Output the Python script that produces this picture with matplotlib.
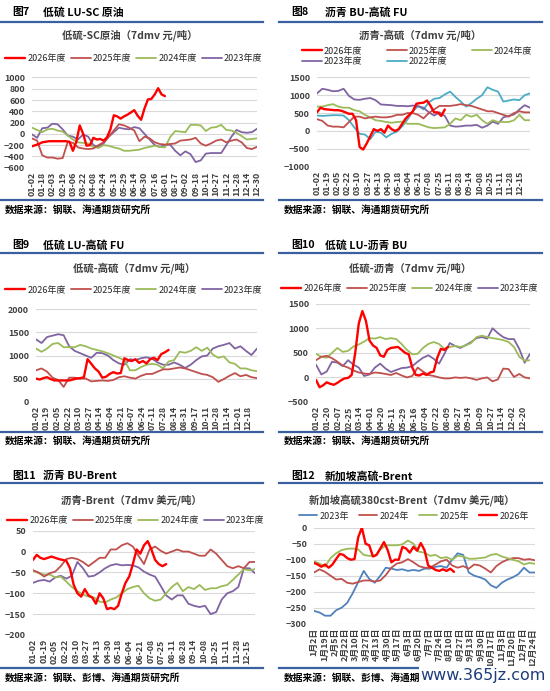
import numpy as np
import matplotlib
matplotlib.use('Agg')
import matplotlib.pyplot as plt
from matplotlib.lines import Line2D

plt.rcParams['font.family'] = ['Noto Sans CJK SC', 'DejaVu Sans']

# ---------------- data ----------------
# Fig 7 : LU - SC
p7_ticks = ['01-02','01-18','02-03','02-19','03-06','03-22','04-08','04-24','05-13','05-29','06-14',
            '06-30','07-16','08-01','08-17','09-02','09-18','10-11','10-27','11-12','11-28','12-14','12-30']
p7_2026 = [-220,-200,-180,-150,-140,-130,-130,-130,-130,-130,-130,-140,-300,-140,150,0,-210,-200,-70,-100,
           -90,-120,-60,80,330,310,270,310,340,380,420,320,250,450,610,620,700,810,700,670]
p7_2025 = [-80,-120,-380,-420,-420,-440,-430,-140,-160,-240,-260,-270,-260,-200,-150,-50,60,170,150,110,60,
           -130,-50,-80,-150,-180,-190,-180,-170,-120,-110,-100,-70,-170,-210,-170,-120,-100,-150,-120,-100,
           -150,-250,-270,-230]
p7_2024 = [110,70,30,80,90,60,40,-30,-100,-150,-160,-170,-230,-250,-200,-210,-240,-260,-300,-300,-290,-280,
           -250,-230,-210,-230,-240,-60,50,40,30,160,160,150,50,110,120,160,70,60,20,-40,-100,-90,-80]
p7_2023 = [-10,-70,100,110,180,170,80,-30,-50,-100,-10,-50,-200,-230,-170,-50,30,110,90,80,120,100,0,-100,
           -200,-230,-200,-190,-300,-380,-310,-360,-500,-470,-350,-340,-340,-340,-200,-50,70,30,20,30,90]

# Fig 8 : BU - FU
p8_ticks = ['01-02','01-19','02-05','02-22','03-10','03-27','04-13','04-30','05-18','06-04','06-21',
            '07-08','07-25','08-11','08-28','09-14','10-08','10-25','11-11','11-28','12-15']
p8_2026 = [520,650,610,600,590,580,580,560,520,480,480,300,-450,-520,-350,-150,50,0,50,-50,150,50,0,50,
           200,350,450,550,760,780,790,850,700,520,520,420,600]
p8_2025 = [330,280,150,120,120,100,250,400,400,350,380,400,380,380,400,450,450,500,500,450,350,500,600,700,
           700,700,720,750,720,700,650,600,550,550,500,450,400,500,550,520,520]
p8_2024 = [680,680,720,750,680,650,650,580,550,450,380,300,280,250,230,250,260,200,200,200,150,100,80,90,
           100,200,350,300,450,400,450,300,200,300,250,250,250,300,450,300,300]
p8_2023 = [1050,1180,1150,1110,1120,1180,980,880,870,900,920,860,740,730,720,700,700,690,710,690,650,520,
           430,520,420,150,120,130,150,150,170,90,150,260,200,380,420,460,600,720,650]
p8_2022 = [430,420,430,440,440,430,300,100,-80,-100,-230,-20,-50,-180,-80,-20,130,320,550,700,600,800,900,
           920,1020,1100,950,820,680,780,900,1000,1220,1150,1100,820,850,880,860,1000,1050]

# Fig 9 : LU - FU
p9_ticks = ['01-02','01-19','02-05','02-22','03-10','03-27','04-14','05-04','05-21','06-07','06-24',
            '07-11','07-28','08-14','08-31','09-17','10-11','10-28','11-14','12-01','12-18']
p9_2026 = [500,480,510,530,490,460,460,460,460,460,480,500,510,530,920,820,720,650,520,540,600,640,610,620,
           940,900,880,920,840,880,830,920,950,900,1030,1070,1120]
p9_2025 = [680,720,650,520,470,320,520,520,500,500,440,450,460,450,470,530,550,520,500,560,600,600,650,700,
           700,720,740,720,680,640,600,580,530,430,490,560,620,550,580,530,510]
p9_2024 = [1150,1080,1150,1250,1270,1180,1180,1180,1230,1200,1150,1120,1090,1050,1000,950,900,680,680,750,
           800,820,800,720,870,900,1080,1060,1100,1180,1100,1170,1020,950,980,850,820,720,720,680,660]
p9_2023 = [1350,1270,1400,1430,1460,1440,1200,1100,1050,1000,950,1060,1050,1000,900,830,800,920,900,940,960,
           930,850,800,800,850,800,730,800,900,980,1000,1150,1200,1230,1270,1150,1200,1100,1010,1150]

# Fig 10 : LU - BU
p10_ticks = ['01-02','01-20','02-07','02-25','03-14','04-01','04-20','05-11','05-29','06-16','07-04',
             '07-22','08-09','08-27','09-14','10-09','10-27','11-14','12-02','12-20']
p10_2026 = [-50,-200,-160,-100,-130,-150,-110,-60,-20,-10,50,500,1100,1350,1150,750,650,600,450,420,560,600,
            610,620,560,500,470,200,50,40,80,50,100,120,400,580,560,620]
p10_2025 = [350,420,440,390,320,240,200,140,100,80,70,100,90,70,50,90,40,0,30,200,120,50,30,0,-20,-20,0,-10,
            0,-20,-50,-20,0,-80,-40,180,170,10,70,0,-20]
p10_2024 = [480,420,400,500,600,520,540,630,670,730,800,790,820,780,800,780,680,560,470,480,600,680,720,680,
            580,620,640,620,650,700,820,850,820,800,780,760,720,620,420,340,350]
p10_2023 = [260,60,120,320,300,230,350,260,200,30,60,200,280,180,110,150,190,200,230,320,400,450,380,280,480,
            700,640,600,660,720,800,820,790,1000,900,820,780,780,580,300,480]

# Fig 11 : BU - Brent
p11_ticks = p8_ticks
p11_2026 = [-20,-8,-15,-18,-15,-12,-15,-18,-20,-22,-40,-80,-100,-108,-90,-105,-110,-125,-100,-112,-138,-135,
            -138,-130,-100,-75,-60,-30,5,-5,15,25,5,-20,-30,-35,-30]
p11_2025 = [-45,-50,-60,-52,-48,-35,-18,-15,-18,-25,-35,-25,-15,-15,5,5,15,20,12,-10,-30,5,12,2,-5,0,5,0,0,
            -5,-10,-10,5,-5,-20,-35,-40,-35,-40,-25,-25]
p11_2024 = [-45,-52,-55,-55,-62,-60,-72,-85,-95,-103,-108,-110,-120,-122,-115,-110,-100,-90,-85,-82,-100,
            -112,-118,-115,-100,-85,-75,-95,-85,-90,-80,-92,-88,-88,-83,-80,-68,-55,-42,-45,-42]
p11_2023 = [-75,-70,-68,-72,-62,-58,-65,-58,-25,-40,-60,-58,-50,-40,-33,-30,-33,-32,-33,-38,-48,-55,-60,-82,
            -105,-115,-105,-105,-125,-130,-133,-130,-150,-145,-115,-100,-95,-85,-40,-40,-52]

# Fig 12 : Singapore HSFO380 - Brent
p12_ticks = ['1月2日','1月19日','2月5日','2月22日','3月10日','3月27日','4月13日','4月30日','5月17日','6月3日',
             '6月20日','7月7日','7月24日','8月10日','8月27日','9月13日','9月30日','10月17日','11月3日',
             '11月20日','12月7日','12月24日']
p12_2023 = [-260,-265,-275,-275,-258,-250,-235,-205,-170,-135,-160,-172,-150,-125,-128,-132,-130,-135,-132,
            -135,-128,-128,-122,-120,-125,-100,-80,-85,-140,-150,-155,-162,-180,-188,-172,-162,-155,-145,
            -125,-140,-140]
p12_2024 = [-140,-130,-138,-150,-162,-160,-172,-175,-170,-165,-165,-168,-165,-148,-125,-112,-108,-98,-108,
            -120,-125,-125,-115,-105,-100,-118,-125,-120,-128,-115,-118,-128,-140,-120,-108,-100,-95,-95,
            -100,-98,-102]
p12_2025 = [-105,-112,-122,-95,-80,-70,-66,-65,-68,-85,-88,-88,-68,-55,-55,-55,-52,-40,-50,-75,-78,-88,-85,
            -95,-92,-100,-88,-90,-97,-97,-95,-93,-85,-82,-90,-95,-100,-105,-115,-110,-113]
p12_2026 = [-110,-115,-122,-115,-125,-115,-98,-82,-85,-95,-100,-98,-30,0,-50,-55,-90,-85,-65,-45,-70,-108,
            -100,-100,-60,-65,-78,-60,-72,-48,-70,-118,-125,-132,-135,-130,-135,-128,-138]

# ---------------- styling ----------------
RED, BROWN, GREEN, PURPLE, CYAN, BLUE = '#FF0000', '#C0504D', '#9BBB59', '#8064A2', '#4BACC6', '#4F81BD'
RULE = '#3A5FA0'
TXT = '#404040'

W, H = 550, 691
fig = plt.figure(figsize=(W / 100, H / 100), dpi=100)
fig.patch.set_facecolor('white')


def rect(l, t, r, b):
    return [l / W, 1 - b / H, (r - l) / W, (b - t) / H]


def ftext(x, y, s, **kw):
    return fig.text(x / W, 1 - y / H, s, **kw)


def hline(x0, x1, y):
    fig.add_artist(Line2D([x0 / W, x1 / W], [1 - y / H, 1 - y / H], color=RULE, lw=1.6,
                          transform=fig.transFigure))


def panel(box, ticks, xmax, ylim, ystep, series, order, leg_center, ncol, colsp,
          title, title_center, hlen=2.2):
    ax = fig.add_axes(rect(*box))
    handles = {}
    for name, vals, frac, color, lw in series:
        x = np.linspace(0, xmax * frac, len(vals))
        h, = ax.plot(x, vals, color=color, lw=lw, solid_joinstyle='round', solid_capstyle='round')
        handles[name] = h
    ax.set_xlim(0, xmax)
    ax.set_ylim(*ylim)
    ax.set_yticks(np.arange(ylim[0], ylim[1] + ystep / 2, ystep))
    ax.set_xticks(range(len(ticks)))
    ax.set_xticklabels(ticks, rotation=90)
    ax.grid(axis='y', color='#D9D9D9', lw=0.8)
    ax.set_axisbelow(True)
    for s in ax.spines.values():
        s.set_visible(False)
    ax.tick_params(axis='both', length=0, labelsize=6.4, colors=TXT)
    ax.tick_params(axis='y', pad=5)
    ax.tick_params(axis='x', pad=3)
    for lab in ax.get_xticklabels() + ax.get_yticklabels():
        lab.set_fontweight('bold')
    hs = [handles[n] for n in order]
    leg = ax.legend(hs, order, loc='center', ncol=ncol, frameon=False,
                    bbox_to_anchor=(leg_center[0] / W, 1 - leg_center[1] / H),
                    bbox_transform=fig.transFigure, fontsize=6.5, handlelength=hlen,
                    handletextpad=0.25, columnspacing=colsp, labelspacing=0.2,
                    borderpad=0, borderaxespad=0)
    for t in leg.get_texts():
        t.set_color('#262626')
    ftext(title_center[0], title_center[1], title, ha='center', va='center',
          fontsize=7.5, fontweight='bold', color=TXT)
    return ax


def frame(x0, x1, y_head, y_top, y_bot, y_src, num, head, src, head_dx):
    ftext(x0 + 12, y_head, num, ha='left', va='center', fontsize=7.8, fontweight='bold', color='black')
    ftext(x0 + head_dx, y_head, head, ha='left', va='center', fontsize=7.8, fontweight='bold', color='black')
    hline(x0, x1, y_top)
    hline(x0, x1, y_bot)
    ftext(x0 + 5, y_src, src, ha='left', va='center', fontsize=7, fontweight='bold', color='black')


SRC1 = '数据来源：钢联、海通期货研究所'
SRC2 = '数据来源：钢联、彭博、海通期货研究所'

# frames
frame(0, 263, 12.5, 21.7, 200, 209.5, '图7', '低硫 LU-SC 原油', SRC1, 43)
frame(279, 542, 12.5, 21.7, 200, 209.5, '图8', '沥青 BU-高硫 FU', SRC1, 46)
frame(0, 263, 245, 252.7, 431.7, 441, '图9', '低硫 LU-高硫 FU', SRC1, 43)
frame(279, 542, 245, 252.7, 431.7, 441, '图10', '低硫 LU-沥青 BU', SRC1, 46)
frame(0, 263, 476, 483, 668, 678, '图11', '沥青 BU-Brent', SRC2, 43)
frame(279, 542, 476, 483, 668, 678, '图12', '新加坡高硫-Brent', SRC2, 46)

# panel 7
panel((32, 77.5, 257, 167.7), p7_ticks, 22, (-600, 1000), 200,
      [('2023年度', p7_2023, 1, PURPLE, 1.3), ('2024年度', p7_2024, 1, GREEN, 1.3),
       ('2025年度', p7_2025, 1, BROWN, 1.3), ('2026年度', p7_2026, 39 / 66, RED, 1.7)],
      ['2026年度', '2025年度', '2024年度', '2023年度'], (134, 59), 4, 0.55,
      '低硫-SC原油（7dmv 元/吨）', (130, 35))

# panel 8
panel((317, 77.3, 530, 166.7), p8_ticks, 21.0, (-1000, 1500), 500,
      [('2022年度', p8_2022, 1, CYAN, 1.3), ('2023年度', p8_2023, 1, PURPLE, 1.3),
       ('2024年度', p8_2024, 1, GREEN, 1.3), ('2025年度', p8_2025, 1, BROWN, 1.3),
       ('2026年度', p8_2026, 36 / 60, RED, 1.7)],
      ['2026年度', '2023年度', '2025年度', '2022年度', '2024年度'], (417, 56.5), 3, 2.7,
      '沥青-高硫（7dmv 元/吨）', (420, 35))

# panel 9
panel((36, 309.3, 257, 401.7), p9_ticks, 20.85, (0, 2000), 500,
      [('2023年度', p9_2023, 1, PURPLE, 1.3), ('2024年度', p9_2024, 1, GREEN, 1.3),
       ('2025年度', p9_2025, 1, BROWN, 1.3), ('2026年度', p9_2026, 36 / 60, RED, 1.7)],
      ['2026年度', '2025年度', '2024年度', '2023年度'], (134, 290), 4, 0.55,
      '低硫-高硫（7dmv 元/吨）', (134, 268))

# panel 10
panel((316, 303.7, 530, 402), p10_ticks, 19.64, (-500, 1500), 500,
      [('2023年度', p10_2023, 1, PURPLE, 1.3), ('2024年度', p10_2024, 1, GREEN, 1.3),
       ('2025年度', p10_2025, 1, BROWN, 1.3), ('2026年度', p10_2026, 37 / 60, RED, 1.7)],
      ['2026年度', '2025年度', '2024年度', '2023年度'], (410, 289), 4, 0.55,
      '低硫-沥青（7dmv 元/吨）', (410, 268))

# panel 11
panel((33, 530.7, 255, 635), p11_ticks, 20.75, (-200, 50), 50,
      [('2023年度', p11_2023, 1, PURPLE, 1.3), ('2024年度', p11_2024, 1, GREEN, 1.3),
       ('2025年度', p11_2025, 1, BROWN, 1.3), ('2026年度', p11_2026, 36 / 60, RED, 1.7)],
      ['2026年度', '2025年度', '2024年度', '2023年度'], (136, 521), 4, 0.55,
      '沥青-Brent（7dmv 美元/吨）', (131, 500.5))

# panel 12
panel((314, 527.7, 535, 623.7), p12_ticks, 21.2, (-300, 0), 50,
      [('2023年', p12_2023, 1, BLUE, 1.3), ('2024年', p12_2024, 1, BROWN, 1.3),
       ('2025年', p12_2025, 1, GREEN, 1.3), ('2026年', p12_2026, 38 / 60, RED, 1.7)],
      ['2023年', '2024年', '2025年', '2026年'], (414, 516), 4, 1.15,
      '新加坡高硫380cst-Brent（7dmv 美元/吨）', (412, 500.5), hlen=2.0)

# site watermark at the bottom right (covers the end of the source line, as in the original)
ftext(546, 675.5, 'www.365jz.com', ha='right', va='center', fontsize=11.5, color='#1F3D7A',
      family=['DejaVu Sans'], zorder=10,
      bbox=dict(facecolor='white', edgecolor='none', pad=1.5))

fig.savefig('out.png', dpi=100, facecolor='white')
